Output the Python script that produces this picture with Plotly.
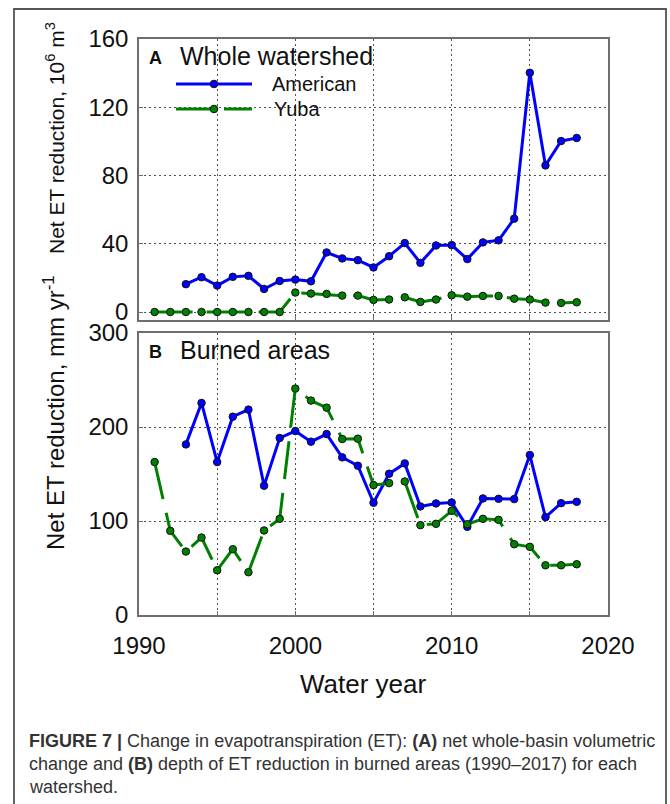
import plotly.graph_objects as go

# ---- data -------------------------------------------------------------
years_american = [1993, 1994, 1995, 1996, 1997, 1998, 1999, 2000, 2001, 2002,
                  2003, 2004, 2005, 2006, 2007, 2008, 2009, 2010, 2011, 2012,
                  2013, 2014, 2015, 2016, 2017, 2018]
years_yuba = [1991, 1992, 1993, 1994, 1995, 1996, 1997, 1998, 1999, 2000,
              2001, 2002, 2003, 2004, 2005, 2006, 2007, 2008, 2009, 2010,
              2011, 2012, 2013, 2014, 2015, 2016, 2017, 2018]

# Panel A: whole-watershed net ET reduction (10^6 m^3)
american_whole = [16.3, 20.4, 15.5, 20.6, 21.2, 13.5, 18.2, 19.0, 18.0, 34.9,
                  31.4, 30.4, 26.1, 32.7, 40.4, 28.8, 39.0, 39.2, 31.0, 40.8,
                  42.0, 54.7, 140.2, 85.9, 100.2, 102.0]
yuba_whole = [0, 0, 0, 0, 0, 0, 0, 0, 0, 11.4,
              10.8, 10.6, 9.6, 9.6, 7.1, 7.3, 8.6, 5.9, 7.3, 9.8,
              9.0, 9.4, 9.4, 7.8, 7.3, 5.5, 5.3, 5.7]

# Panel B: net ET reduction in burned areas (mm/yr)
american_burned = [181.5, 225.6, 162.7, 211.0, 218.5, 137.5, 188.3, 195.7, 184.4, 192.5,
                   167.7, 158.8, 119.4, 150.3, 161.3, 115.5, 118.7, 119.7, 93.8, 124.0,
                   123.6, 123.3, 170.2, 104.1, 119.0, 120.4]
yuba_burned = [162.7, 89.5, 67.5, 82.4, 47.6, 70.0, 45.5, 89.9, 102.3, 240.9,
               228.1, 220.6, 187.2, 187.6, 138.2, 140.3, 142.1, 95.6, 97.0, 110.8,
               96.6, 102.3, 101.2, 75.3, 72.5, 52.9, 52.9, 54.0]

x_ticks = [1990, 2000, 2010, 2020]
x_minor = [1995, 2005, 2015]
yA_ticks = [0, 40, 80, 120, 160]
yB_ticks = [0, 100, 200, 300]

# ---- styling ----------------------------------------------------------
W, H = 670, 804
FONT = "Liberation Sans, Arial, sans-serif"
BLUE = "#0000FF"
GREEN = "#008000"
YUBA_DASH = "38px,14px"


def px_x(x):
    return x / W


def px_y(y):
    return 1 - y / H


fig = go.Figure()
series = [
    ("x", "y", years_american, american_whole, BLUE, "solid"),
    ("x", "y", years_yuba, yuba_whole, GREEN, YUBA_DASH),
    ("x2", "y2", years_american, american_burned, BLUE, "solid"),
    ("x2", "y2", years_yuba, yuba_burned, GREEN, YUBA_DASH),
]
for xa, ya, xs, ys, color, dash in series:
    fig.add_trace(go.Scatter(
        x=xs, y=ys, xaxis=xa, yaxis=ya, mode="lines+markers",
        line=dict(color=color, width=3, dash=dash),
        marker=dict(color=color, size=7.5, line=dict(color="#111111", width=1)),
        showlegend=False, hoverinfo="skip",
    ))

grid_dash = "1.5px,3.5px"
axis_common = dict(
    showline=True, mirror=True, linecolor="#6e6e6e", linewidth=1.5,
    ticks="inside", ticklen=4, tickcolor="#6e6e6e",
    showgrid=True, gridcolor="#505050", gridwidth=1, griddash=grid_dash,
    zeroline=False, tickfont=dict(family=FONT, size=24, color="#111111"),
    automargin=False,
)
x_minor_style = dict(tickvals=x_minor, ticks="inside", ticklen=4,
                     tickcolor="#6e6e6e", showgrid=True, gridcolor="#505050",
                     gridwidth=1, griddash=grid_dash)

x_dom = [px_x(139), px_x(608)]
fig.update_layout(
    width=W, height=H,
    margin=dict(l=0, r=0, t=0, b=0, pad=0, autoexpand=False),
    paper_bgcolor="white", plot_bgcolor="white",
    xaxis=dict(domain=x_dom, range=[1990, 2020], anchor="y",
               tickvals=x_ticks, showticklabels=False, minor=x_minor_style,
               **axis_common),
    yaxis=dict(domain=[px_y(320), px_y(39)], range=[-4.69, 160], anchor="x",
               tickvals=yA_ticks, ticklabelstandoff=4, **axis_common),
    xaxis2=dict(domain=x_dom, range=[1990, 2020], anchor="y2",
                tickvals=x_ticks, ticklabelstandoff=8, minor=x_minor_style,
                **axis_common),
    yaxis2=dict(domain=[px_y(615), px_y(333)], range=[0, 300], anchor="x2",
                tickvals=yB_ticks, ticklabelstandoff=4, **axis_common),
)

annotations = []


def note(text, x, y, size, xanchor="left", yanchor="middle", angle=0,
         color="#111111"):
    annotations.append(dict(
        text=text, x=px_x(x), y=px_y(y), xref="paper", yref="paper",
        xanchor=xanchor, yanchor=yanchor, textangle=angle, showarrow=False,
        font=dict(family=FONT, size=size, color=color),
    ))


# panel labels
note("<b>A</b>", 147, 58, 18)
note("Whole watershed", 178, 56, 25)
note("<b>B</b>", 147, 352, 18)
note("Burned areas", 178, 350, 25)

# legend text
note("American", 270, 84, 20)
note("Yuba", 272, 109, 20)

# axis titles
note("Net ET reduction, 10<sup>6</sup> m<sup>3</sup>", 55, 138, 21,
     xanchor="center", angle=-90)
note("Net ET reduction, mm yr<sup>-1</sup>", 54, 413, 24,
     xanchor="center", angle=-90)
note("Water year", 364, 684, 26, xanchor="center")

# caption
cap_color = "#333333"
note("<b>FIGURE 7 |</b> Change in evapotranspiration (ET): <b>(A)</b> net "
     "whole-basin volumetric", 27, 741, 18, color=cap_color)
note("change and <b>(B)</b> depth of ET reduction in burned areas "
     "(1990–2017) for each", 27, 764, 18, color=cap_color)
note("watershed.", 27, 787, 18, color=cap_color)

fig.update_layout(annotations=annotations)

# legend keys and the outer frame (open at the bottom of the page)
FRAME = dict(color="#555555", width=1.8)
shapes = [
    dict(type="line", xref="paper", yref="paper",
         x0=px_x(176), x1=px_x(252), y0=px_y(84), y1=px_y(84),
         line=dict(color=BLUE, width=3)),
    dict(type="line", xref="paper", yref="paper",
         x0=px_x(176), x1=px_x(252), y0=px_y(109), y1=px_y(109),
         line=dict(color=GREEN, width=3, dash="42px,6px")),
    dict(type="circle", xref="paper", yref="paper",
         x0=px_x(210.2), x1=px_x(217.8), y0=px_y(87.8), y1=px_y(80.2),
         fillcolor=BLUE, line=dict(color="#111111", width=1)),
    dict(type="circle", xref="paper", yref="paper",
         x0=px_x(210.2), x1=px_x(217.8), y0=px_y(112.8), y1=px_y(105.2),
         fillcolor=GREEN, line=dict(color="#111111", width=1)),
    dict(type="path", xref="paper", yref="paper", layer="above",
         path="M {x0},{y0} L {x0},{y1} L {x1},{y1} L {x1},{y0}".format(
             x0=px_x(14), x1=px_x(666), y0=0.0, y1=px_y(9)),
         line=FRAME),
]
fig.update_layout(shapes=shapes)

fig.write_html("out.html")
